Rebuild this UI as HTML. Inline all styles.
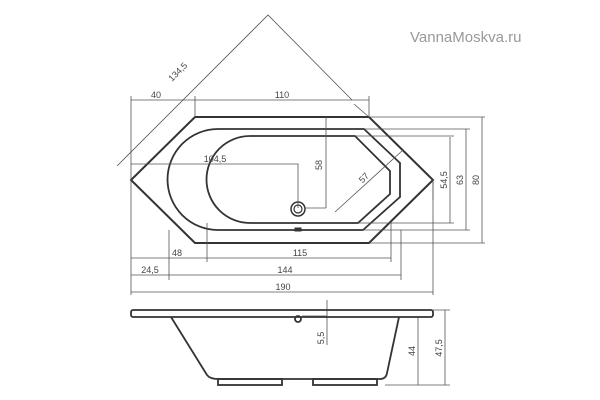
<!DOCTYPE html>
<html><head><style>body{margin:0;background:#fff}svg{display:block}</style></head><body>
<svg width="600" height="400" viewBox="0 0 600 400" xmlns="http://www.w3.org/2000/svg" font-family="Liberation Sans, sans-serif">
<text x="410" y="42" font-size="15" fill="#999">VannaMoskva.ru</text>
<g fill="none" stroke="#333">
<path d="M195,117 L369,117 L433,180 L369,243 L195,243 L131,180 Z" stroke-width="2"/>
<path d="M218,129 L364,129 L400,163 L400,197 L363,230 L218,230 A50.5,50.5 0 0 1 218,129 Z" stroke-width="1.8"/>
<path d="M250,136 L355,136 L390,171 L390,194 L358,223 L250,223 A43.5,43.5 0 0 1 250,136 Z" stroke-width="1.8"/>
<circle cx="298" cy="209" r="7" stroke-width="1.5"/><circle cx="298" cy="209" r="4" stroke-width="1.2"/>
<rect x="295" y="228" width="6" height="3" fill="#333"/>
</g>
<g fill="none" stroke="#555" stroke-width="0.8">
<path d="M131,100 H369 M131,96 V180 M195,96 V117 M369,96 V117"/>
<path d="M117,166 L268,15 L352,100 M354,104 L369,117"/>
<path d="M131,164 H298 V208 M326,117 V208 M304,208 H326"/>
<path d="M335,212 L403,150"/>
<path d="M369,117 H485 M433,180 V200 M363,230 H470 M358,223 H454 M355,136 H454 M364,129 H470 M369,243 H485"/>
<path d="M450,137 V223 M466,129 V230 M482,117 V243"/>
<path d="M131,180 V295 M169,230 V280 M207,223 V262 M391,223 V262 M401,230 V280 M433,180 V295"/>
<path d="M131,258 H391 M131,275 H401 M131,292 H433"/>
<path d="M433,310 H450 M418,317 V385 M445,310 V385 M385,385 H450 M327,300 V345 M302,316 H327"/>
</g>
<g font-size="9" fill="#444">
<text x="156" y="98" text-anchor="middle">40</text>
<text x="282" y="98" text-anchor="middle">110</text>
<text x="215" y="162" text-anchor="middle">104,5</text>
<text x="180" y="74" transform="rotate(-45 180 74)" text-anchor="middle">134,5</text>
<text x="366" y="180" transform="rotate(-45 366 180)" text-anchor="middle">57</text>
<text x="322" y="165" transform="rotate(-90 322 165)" text-anchor="middle">58</text>
<text x="447" y="180" transform="rotate(-90 447 180)" text-anchor="middle">54,5</text>
<text x="463" y="180" transform="rotate(-90 463 180)" text-anchor="middle">63</text>
<text x="479" y="180" transform="rotate(-90 479 180)" text-anchor="middle">80</text>
<text x="177" y="256" text-anchor="middle">48</text>
<text x="300" y="256" text-anchor="middle">115</text>
<text x="150" y="273" text-anchor="middle">24,5</text>
<text x="285" y="273" text-anchor="middle">144</text>
<text x="283" y="290" text-anchor="middle">190</text>
<text x="324" y="338" transform="rotate(-90 324 338)" text-anchor="middle">5,5</text>
<text x="415" y="351" transform="rotate(-90 415 351)" text-anchor="middle">44</text>
<text x="442" y="348" transform="rotate(-90 442 348)" text-anchor="middle">47,5</text>
</g>
<g fill="none" stroke="#333" stroke-width="1.8">
<rect x="131" y="310" width="302" height="7" rx="2"/>
<path d="M171,317 L207,375 Q210,379 218,379 L380,379 Q386,379 387,373 L399,317"/>
<rect x="218" y="379" width="64" height="6"/>
<rect x="313" y="379" width="64" height="6"/>
<circle cx="298" cy="319" r="3"/>
</g>
</svg>
</body></html>
